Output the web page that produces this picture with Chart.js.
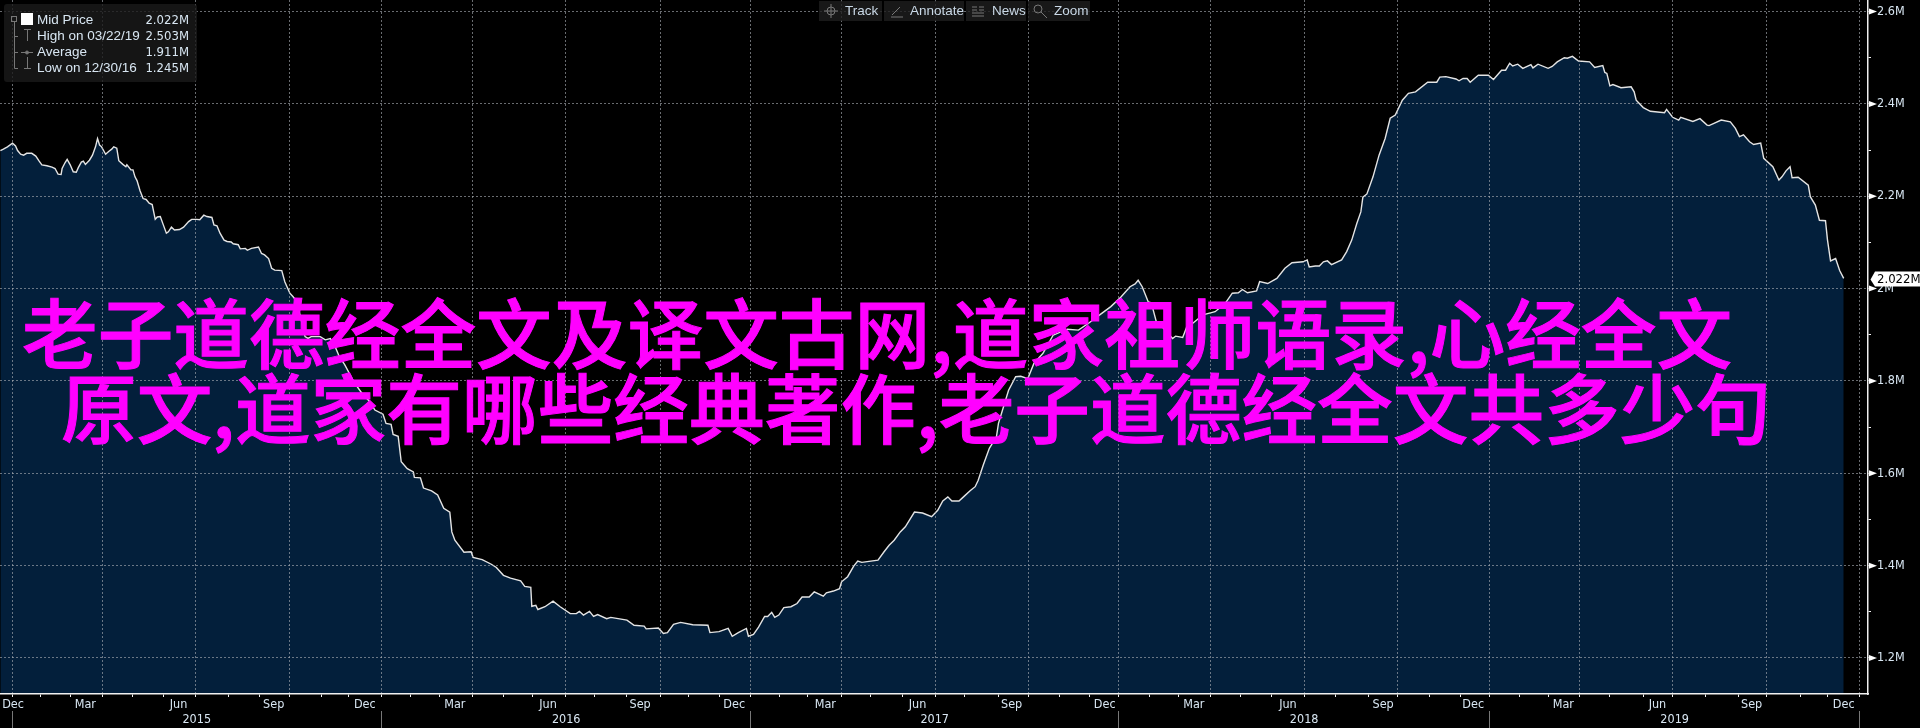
<!DOCTYPE html>
<html lang="en">
<head>
  <meta charset="UTF-8" />
  <title>Mid Price</title>
  <script src="https://cdn.jsdelivr.net/npm/chart.js"></script>
  <style>
    html, body { margin: 0; background: #000; }
    #wrap { position: relative; width: 1920px; height: 728px; overflow: hidden; background: #000; }
    #chart { display: block; }
    .legend { position: absolute; left: 4px; top: 4px; width: 193px; height: 78px; background: rgba(26,26,26,0.8); border-radius: 3px; }
    .legend svg { position: absolute; left: 0; top: 0; }
    .row { position: absolute; left: 33px; width: 152px; height: 16px; line-height: 16px; color: #d8e6f2; font-family: "Liberation Sans", sans-serif; font-size: 13.5px; white-space: nowrap; }
    .row b { position: absolute; right: 0; top: 0; font-weight: 400; font-family: "DejaVu Sans Condensed", "Liberation Sans", sans-serif; font-size: 13px; }
    .btn { position: absolute; top: 1px; height: 20px; line-height: 20px; background: rgba(30,30,30,0.8); color: #c9d8e6; font-family: "Liberation Sans", sans-serif; font-size: 13.5px; }
    .btn span { position: absolute; top: 0; }
    .btn svg { position: absolute; top: 2px; }
    .banner { position: absolute; color: #ff00ff; -webkit-text-stroke: 1px #ff00ff; font-family: "Noto Sans CJK SC", sans-serif; font-size: 75.7px; font-weight: 500; line-height: 76px; white-space: nowrap; }
  </style>
</head>
<body>
<div id="wrap">
  <canvas id="chart" width="1920" height="728"></canvas>

  <div class="legend">
    <svg width="193" height="78" fill="none" stroke="#777">
      <rect x="7.5" y="12.5" width="5" height="5" />
      <path d="M10.5 17.5V64.5H14M10.5 32.5H14M10.5 48.5H14" />
      <rect x="17" y="9" width="12" height="12" fill="#fff" stroke="none" />
      <path d="M20 25.5H27M23.5 25.5V37M17 48.5H29M20 64.5H27M23.5 53V64.5" />
      <circle cx="23" cy="48.5" r="1.5" fill="#777" />
    </svg>
    <div class="row" style="top:8px">Mid Price<b>2.022M</b></div>
    <div class="row" style="top:24px">High on 03/22/19<b>2.503M</b></div>
    <div class="row" style="top:40px">Average<b>1.911M</b></div>
    <div class="row" style="top:56px">Low on 12/30/16<b>1.245M</b></div>
  </div>

  <div class="btn" style="left:819px;width:63px">
    <svg style="left:4px" width="16" height="16" fill="none" stroke="#777"><circle cx="8" cy="8" r="4" /><path d="M8 1V15M1 8H15" /></svg>
    <span style="left:26px">Track</span>
  </div>
  <div class="btn" style="left:884px;width:80px">
    <svg style="left:5px" width="16" height="16" fill="none" stroke="#777"><path d="M3 12L11 4M2 14H14" /></svg>
    <span style="left:26px">Annotate</span>
  </div>
  <div class="btn" style="left:966px;width:60px">
    <svg style="left:4px" width="16" height="16" fill="none" stroke="#777"><path d="M2 4H7M2 7H7M2 10H14M2 13H14M9 4H14M9 7H14" /></svg>
    <span style="left:26px">News</span>
  </div>
  <div class="btn" style="left:1028px;width:62px">
    <svg style="left:4px" width="16" height="16" fill="none" stroke="#777"><circle cx="6" cy="6" r="4" /><path d="M9 9L15 15" /></svg>
    <span style="left:26px">Zoom</span>
  </div>

  <div class="banner" style="left:22px;top:292px">老子道德经全文及译文古网,道家祖师语录,心经全文</div>
  <div class="banner" style="left:61px;top:367px">原文,道家有哪些经典著作,老子道德经全文共多少句</div>
</div>

<script>
// days since the end of Dec 2014, as spaced on the source axis
const days = [
  -12,-9,-5,0,3,5,8,11,14,19,23,26,29,34,39,42,45,48,49,52,54,57,60,63,65,68,70,72,76,79,82,84,86,88,92,95,98,100,103,105,109,112,113,117,119,121,123,126,129,132,135,138,141,143,146,149,152,154,157,160,165,169,174,177,182,185,189,192,197,199,202,205,209,212,216,218,223,225,230,232,236,243,246,249,253,256,259,266,269,274,277,281,289,292,295,304,309,314,318,323,328,338,345,
  353,358,366,369,374,376,381,384,390,396,397,403,406,414,420,426,432,434,437,446,453,455,464,473,478,485,492,502,506,512,513,517,519,526,534,541,551,557,560,564,570,574,578,587,591,607,614,624,626,638,643,647,653,660,672,687,689,698,707,711,717,725,727,732,737,743,746,750,753,757,762,769,775,780,787,792,801,804,811,817,819,825,831,835,
  839,855,861,866,871,877,882,891,899,908,914,919,924,928,935,940,946,951,954,959,965,972,974,979,984,991,996,1003,1009,1018,1028,1042,1053,1063,1074,1085,1095,1104,1109,1112,1116,1122,1125,1130,1137,1146,1149,1156,1160,1166,1176,1188,1198,1205,1211,1215,1220,1229,1232,1240,1249,1257,1264,1275,1279,1281,1287,
  1291,1295,1299,1303,1313,1318,1323,1328,1332,1334,1338,1344,1350,1356,1361,1366,1373,1379,1386,1398,1407,1410,1416,1426,1429,1433,1437,1440,1448,1458,1463,1471,1475,1479,1482,1487,1492,1500,1502,1507,1517,1521,1526,1533,1536,1541,1547,1558,1563,1571,1573,1575,1578,1581,1589,1599,1602,1604,1611,1618,1632,1634,1640,1646,1648,1660,1667,1674,1676,1688,1697,1702,1706,1710,1716,1720,1727,1730,1739,1745,1748,1752,1756,1758,1764,1774,1776,1781,1785,1791,1793,1796,1801,1805,1809
];
const midPrice = [
  2.299,2.302,2.307,2.315,2.309,2.299,2.291,2.289,2.293,2.293,2.287,2.277,2.268,2.266,2.263,2.260,2.248,2.247,2.260,2.273,2.280,2.268,2.253,2.252,2.262,2.274,2.276,2.269,2.278,2.289,2.307,2.325,2.311,2.307,2.291,2.297,2.302,2.307,2.304,2.277,2.269,2.264,2.268,2.257,2.257,2.242,2.234,2.212,2.195,2.193,2.185,2.182,2.150,2.155,2.156,2.138,2.120,2.123,2.133,2.127,2.128,2.133,2.145,2.150,2.150,2.149,2.159,2.156,2.154,2.138,2.136,2.120,2.105,2.102,2.101,2.097,2.095,2.086,2.087,2.083,2.087,2.090,2.076,2.073,2.065,2.044,2.040,2.039,2.015,1.990,1.983,1.972,1.896,1.892,1.896,1.896,1.889,1.892,1.878,1.852,1.836,1.795,1.774,
  1.755,1.737,1.728,1.708,1.706,1.684,1.680,1.625,1.610,1.603,1.591,1.590,1.568,1.562,1.553,1.524,1.516,1.473,1.455,1.429,1.430,1.418,1.413,1.403,1.396,1.379,1.373,1.367,1.355,1.353,1.312,1.314,1.305,1.311,1.323,1.311,1.296,1.296,1.301,1.293,1.301,1.290,1.294,1.285,1.288,1.282,1.271,1.269,1.263,1.265,1.253,1.255,1.273,1.277,1.272,1.271,1.255,1.257,1.264,1.247,1.255,1.264,1.247,1.251,1.267,1.290,1.290,1.299,1.288,1.293,1.309,1.311,1.318,1.332,1.332,1.343,1.334,1.341,1.345,1.350,1.365,1.376,1.399,1.410,
  1.407,1.412,1.430,1.444,1.455,1.473,1.484,1.516,1.514,1.506,1.520,1.540,1.549,1.540,1.540,1.550,1.562,1.571,1.585,1.618,1.654,1.679,1.708,1.744,1.780,1.809,1.810,1.805,1.838,1.860,1.899,1.912,1.910,1.925,1.943,1.961,1.982,2.004,2.010,2.018,2.004,1.971,1.969,1.928,1.914,1.892,1.897,1.894,1.917,1.925,1.943,1.950,1.968,1.990,1.991,1.998,1.991,1.995,2.015,2.011,2.022,2.044,2.056,2.058,2.062,2.047,2.049,
  2.049,2.058,2.060,2.052,2.062,2.080,2.105,2.141,2.166,2.198,2.205,2.242,2.289,2.325,2.369,2.376,2.408,2.423,2.426,2.447,2.447,2.458,2.459,2.454,2.450,2.455,2.455,2.447,2.462,2.462,2.453,2.473,2.473,2.488,2.482,2.486,2.477,2.485,2.478,2.486,2.477,2.481,2.491,2.500,2.499,2.503,2.493,2.491,2.479,2.483,2.468,2.466,2.439,2.442,2.435,2.437,2.426,2.408,2.392,2.384,2.381,2.388,2.371,2.365,2.371,2.362,2.368,2.354,2.353,2.365,2.361,2.347,2.329,2.333,2.318,2.312,2.315,2.282,2.264,2.235,2.242,2.255,2.264,2.240,2.241,2.224,2.199,2.181,2.148,2.147,2.105,2.060,2.065,2.039,2.022
];

// axis ticks and labels
const monthEnds = [0,28,57,89,119,149,181,213,244,274,305,332,365,393,422,454,485,514,546,575,607,640,668,698,729,758,785,819,848,879,912,940,974,1004,1034,1064,1093,1123,1152,1183,1213,1244,1276,1307,1340,1368,1400,1430,1459,1489,1517,1548,1578,1611,1640,1672,1705,1733,1766,1793,1825];
const quarterEnds = [0,89,181,274,365,454,546,640,729,819,912,1004,1093,1183,1276,1368,1459,1548,1640,1733,1825];
const monthLabelDays = [0.5,72,164,258,348,437,529,620,713,803,894,987,1079,1167,1260,1354,1443,1532,1625,1718,1809];
const monthLabels = ['Dec','Mar','Jun','Sep','Dec','Mar','Jun','Sep','Dec','Mar','Jun','Sep','Dec','Mar','Jun','Sep','Dec','Mar','Jun','Sep','Dec'];
const yearEnds = [0,365,729,1093,1459,1825];
const yearLabelDays = [182,547,911,1276,1642];
const yearLabels = ['2015','2016','2017','2018','2019'];
const yTicks = [1.2,1.3,1.4,1.5,1.6,1.7,1.8,1.9,2.0,2.1,2.2,2.3,2.4,2.5,2.6];
const yLabels = ['1.2M','','1.4M','','1.6M','','1.8M','','2M','','2.2M','','2.4M','','2.6M'];

const xMin = -12.35, xMax = 1833;
const textColor = '#d8e6f2';
const axisFont = { family: '"DejaVu Sans Condensed", "Liberation Sans", sans-serif', size: 12.5 };
const gridDash = [2, 2];

function useTicks(values) {
  return scale => { scale.ticks = values.map(v => ({ value: v })); };
}
function fixSize(prop, size) {
  return scale => {
    scale[prop] = size;
    scale.paddingLeft = scale.paddingRight = scale.paddingTop = scale.paddingBottom = 0;
  };
}

// triangle flags on the price axis and the last price tag
const axisMarks = {
  id: 'axisMarks',
  afterDraw(chart) {
    const ctx = chart.ctx, y = chart.scales.y, right = chart.chartArea.right;
    ctx.save();
    ctx.fillStyle = '#fff';
    yTicks.forEach((v, i) => {
      if (!yLabels[i]) return;
      const py = y.getPixelForValue(v);
      ctx.beginPath();
      ctx.moveTo(right + 1, py - 3);
      ctx.lineTo(right + 9, py);
      ctx.lineTo(right + 1, py + 3);
      ctx.fill();
    });
    const last = midPrice[midPrice.length - 1];
    const py = y.getPixelForValue(last);
    ctx.beginPath();
    ctx.moveTo(right + 2.5, py + 1);
    ctx.lineTo(right + 7, py - 7);
    ctx.lineTo(1920, py - 7);
    ctx.lineTo(1920, py + 8);
    ctx.lineTo(right + 7, py + 8);
    ctx.fill();
    ctx.fillStyle = '#000';
    ctx.font = '13px "DejaVu Sans Condensed", "Liberation Sans", sans-serif';
    ctx.textBaseline = 'middle';
    ctx.fillText(last.toFixed(3) + 'M', right + 9, py + 1);
    ctx.restore();
  }
};

new Chart(document.getElementById('chart'), {
  type: 'line',
  data: {
    datasets: [{
      label: 'Mid Price',
      data: days.map((d, i) => ({ x: d, y: midPrice[i] })),
      borderColor: '#e4e4e4',
      borderWidth: 1.4,
      backgroundColor: '#031f3b',
      fill: 'start',
      pointRadius: 0,
      tension: 0
    }]
  },
  options: {
    responsive: false,
    animation: false,
    parsing: false,
    normalized: true,
    layout: { padding: 0 },
    plugins: { legend: { display: false }, tooltip: { enabled: false } },
    scales: {
      x: {
        type: 'linear', position: 'bottom', min: xMin, max: xMax, weight: 1,
        afterBuildTicks: useTicks(monthEnds),
        afterFit: fixSize('height', 4),
        ticks: { display: false, autoSkip: false },
        border: { color: '#f0f0f0', width: 1.5, dash: gridDash, z: 2 },
        grid: {
          z: 1,
          tickLength: 3,
          tickColor: '#f0f0f0',
          color: c => quarterEnds.includes(c.tick.value) ? 'rgba(170,175,180,0.62)' : 'transparent'
        }
      },
      months: {
        type: 'linear', position: 'bottom', min: xMin, max: xMax, weight: 2,
        afterBuildTicks: useTicks(monthLabelDays),
        afterFit: fixSize('height', 13),
        border: { display: false },
        grid: { display: false, drawTicks: false },
        ticks: {
          autoSkip: false, maxRotation: 0, padding: -1, color: textColor, font: axisFont,
          callback: (v, i) => monthLabels[i]
        }
      },
      years: {
        type: 'linear', position: 'bottom', min: xMin, max: xMax, weight: 3,
        afterBuildTicks: useTicks(yearEnds.concat(yearLabelDays)),
        afterFit: fixSize('height', 17),
        border: { display: false },
        grid: {
          drawOnChartArea: false,
          tickLength: 17,
          tickColor: c => yearEnds.includes(c.tick.value) ? '#777' : 'transparent'
        },
        ticks: {
          autoSkip: false, maxRotation: 0, padding: -16, color: textColor, font: axisFont,
          callback: (v, i) => i < yearEnds.length ? '' : yearLabels[i - yearEnds.length]
        }
      },
      y: {
        type: 'linear', position: 'right', min: 1.122, max: 2.625,
        afterBuildTicks: useTicks(yTicks),
        afterFit: fixSize('width', 52),
        border: { color: '#f0f0f0', width: 1.5, dash: gridDash, z: 2 },
        grid: {
          z: 1,
          tickLength: 3,
          tickColor: '#f0f0f0',
          color: c => yLabels[yTicks.indexOf(c.tick.value)] ? 'rgba(170,175,180,0.62)' : 'transparent'
        },
        ticks: {
          autoSkip: false, padding: 6, color: textColor, font: axisFont,
          callback: (v, i) => yLabels[i]
        }
      }
    }
  },
  plugins: [axisMarks]
});
</script>
</body>
</html>
